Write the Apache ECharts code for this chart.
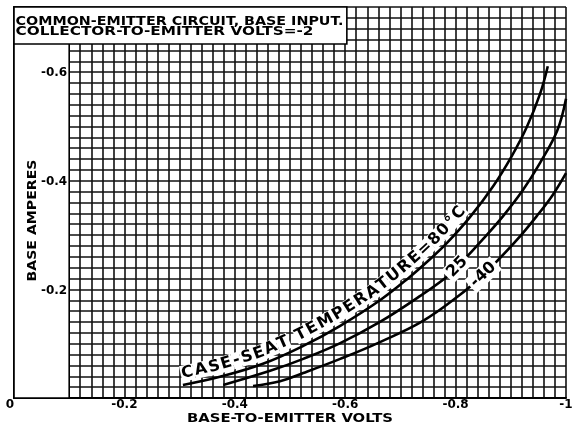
<!DOCTYPE html>
<html><head><meta charset="utf-8">
<script src="https://cdn.jsdelivr.net/npm/echarts@6/dist/echarts.min.js"></script>
<style>html,body{margin:0;padding:0;background:#fff}#c{width:580px;height:434px}</style>
</head><body><div id="c"></div>
<script>
// ---------- data ----------
const titleLines = ['COMMON-EMITTER CIRCUIT, BASE INPUT.', 'COLLECTOR-TO-EMITTER VOLTS=-2'];
const xAxisTitle = 'BASE-TO-EMITTER VOLTS';
const yAxisTitle = 'BASE AMPERES';
const xTickLabels = [0, -0.2, -0.4, -0.6, -0.8, -1];
const yTickLabels = [-0.2, -0.4, -0.6];
const seriesNames = ['80', '25', '-40'];
const curve80 = [[-0.306,-0.024],[-0.373,-0.039],[-0.451,-0.063],[-0.524,-0.096],[-0.591,-0.133],[-0.663,-0.180],[-0.717,-0.223],[-0.754,-0.256],[-0.784,-0.285],[-0.826,-0.333],[-0.868,-0.390],[-0.902,-0.446],[-0.929,-0.499],[-0.953,-0.560],[-0.967,-0.611]];
const curve25 = [[-0.379,-0.024],[-0.464,-0.050],[-0.524,-0.072],[-0.591,-0.101],[-0.663,-0.140],[-0.736,-0.188],[-0.790,-0.228],[-0.813,-0.252],[-0.850,-0.293],[-0.886,-0.335],[-0.922,-0.383],[-0.953,-0.433],[-0.984,-0.492],[-1.000,-0.551]];
const curveM40 = [[-0.433,-0.022],[-0.482,-0.031],[-0.524,-0.046],[-0.591,-0.072],[-0.663,-0.103],[-0.741,-0.142],[-0.808,-0.190],[-0.844,-0.221],[-0.875,-0.252],[-0.911,-0.291],[-0.947,-0.335],[-0.976,-0.374],[-1.000,-0.414]];
const curveLabel80 = 'CASE-SEAT TEMPERATURE=80°C';
const curveLabel25 = '25';
const curveLabelM40 = '-40';

// ---------- chart ----------
const FONT = '"DejaVu Sans", sans-serif';
function pickLabel(list) {
  return function (v) {
    const hit = list.find(t => Math.abs(t - v) < 1e-6);
    return hit === undefined ? '' : String(hit);
  };
}
const gridLine = { show: true, lineStyle: { color: '#111', width: 1.6 } };
const chart = echarts.init(document.getElementById('c'), null, { renderer: 'canvas' });
const lineSeries = (name, data) => ({
  name, type: 'line', data, smooth: 0.4, showSymbol: false, silent: true, z: 3,
  lineStyle: { color: '#000', width: 2.6 }
});
chart.setOption({
  animation: false,
  backgroundColor: '#fff',
  grid: { left: 14, right: 14, top: 7, bottom: 36, containLabel: false },
  xAxis: {
    type: 'value', min: -1, max: 0, interval: 0.02, inverse: true,
    axisLine: { show: true, onZero: false, lineStyle: { color: '#000', width: 2 } },
    axisTick: { show: false },
    axisLabel: { formatter: pickLabel(xTickLabels), color: '#000', fontFamily: FONT, fontWeight: 'bold', fontSize: 12, margin: 1, showMinLabel: true, showMaxLabel: true, alignMaxLabel: 'right' },
    splitLine: gridLine
  },
  yAxis: {
    type: 'value', min: -0.72, max: 0, interval: 0.02, inverse: true,
    axisLine: { show: true, onZero: false, lineStyle: { color: '#000', width: 2 } },
    axisTick: { show: false },
    axisLabel: { show: false },
    splitLine: gridLine
  },
  series: [lineSeries(seriesNames[0], curve80), lineSeries(seriesNames[1], curve25), lineSeries(seriesNames[2], curveM40)]
});

// ---------- annotations ----------
const px = p => chart.convertToPixel({ gridIndex: 0 }, p);
const ctx = document.createElement('canvas').getContext('2d');
const measure = (t, f) => { ctx.font = f; return ctx.measureText(t).width; };

function polyInfo(data) {
  const pts = data.map(px);
  const s = [0];
  for (let i = 1; i < pts.length; i++) s.push(s[i - 1] + Math.hypot(pts[i][0] - pts[i - 1][0], pts[i][1] - pts[i - 1][1]));
  return { pts, s };
}
function at(pi, sv) {
  const { pts, s } = pi;
  sv = Math.max(0, Math.min(s[s.length - 1], sv));
  let i = 1;
  while (i < s.length - 1 && s[i] < sv) i++;
  const t = (sv - s[i - 1]) / (s[i] - s[i - 1] || 1);
  return [pts[i - 1][0] + t * (pts[i][0] - pts[i - 1][0]), pts[i - 1][1] + t * (pts[i][1] - pts[i - 1][1])];
}
function sAtX(pi, dataX) {
  const xp = px([dataX, 0])[0];
  const { pts, s } = pi;
  for (let i = 1; i < pts.length; i++) {
    if ((pts[i - 1][0] - xp) * (pts[i][0] - xp) <= 0) {
      const t = (xp - pts[i - 1][0]) / (pts[i][0] - pts[i - 1][0] || 1);
      return s[i - 1] + t * (s[i] - s[i - 1]);
    }
  }
  return 0;
}
function frame(pi, sv) {
  const a = at(pi, sv - 9), b = at(pi, sv + 9), c = at(pi, sv);
  const dx = b[0] - a[0], dy = b[1] - a[1], L = Math.hypot(dx, dy) || 1;
  return { x: c[0], y: c[1], tx: dx / L, ty: dy / L, rot: Math.atan2(-dy, dx) };
}

const els = [];
// white panels
const a0 = px([0, 0]), a1 = px([-0.1, -0.72]);
els.push({ type: 'rect', z: 10, shape: { x: a0[0], y: a1[1], width: a1[0] - a0[0], height: a0[1] - a1[1] }, style: { fill: '#fff', stroke: '#000', lineWidth: 1.6 } });
const b0 = px([0, -0.72]), b1 = px([-0.603, -0.652]);
els.push({ type: 'rect', z: 10, shape: { x: b0[0], y: b0[1], width: b1[0] - b0[0], height: b1[1] - b0[1] }, style: { fill: '#fff', stroke: '#000', lineWidth: 1.6 } });

function fitted(text, font, x, y, width, align, rotation) {
  const w = measure(text, font);
  return { type: 'text', z: 12, x, y, rotation: rotation || 0, scaleX: width / w,
    style: { text, font, fill: '#000', align: align, verticalAlign: 'middle', textAlign: align, textVerticalAlign: 'middle' } };
}
const TF = 'bold 12px ' + FONT;
els.push(fitted(titleLines[0], TF, b0[0] + 1.5, b0[1] + 15, 328, 'left'));
els.push(fitted(titleLines[1], TF, b0[0] + 1.5, b0[1] + 25, 298, 'left'));
const AF = 'bold 13px ' + FONT;
els.push(fitted(xAxisTitle, AF, (px([0, 0])[0] + px([-1, 0])[0]) / 2, a0[1] + 21, 206, 'center'));
els.push(fitted(yAxisTitle, AF, a0[0] + 19, (a0[1] + a1[1]) / 2 + 18, 122, 'center', Math.PI / 2));

// y tick labels (drawn above the white left panel)
yTickLabels.forEach(v => {
  const p = px([0, v]);
  els.push({ type: 'text', z: 12, x: a1[0] - 2, y: p[1] + 1,
    style: { text: String(v), font: 'bold 12px ' + FONT, fill: '#000', align: 'right', verticalAlign: 'middle', textAlign: 'right', textVerticalAlign: 'middle' } });
});

// curved label along the 80 C curve
const p80 = polyInfo(curve80);
const LF = 'bold 16px ' + FONT;
(function () {
  const s0 = sAtX(p80, -0.308), s1 = sAtX(p80, -0.828);
  const chars = curveLabel80.split('');
  const ws = chars.map(c => measure(c, LF));
  const W = ws.reduce((p, q) => p + q, 0);
  const gap = (s1 - s0 - W) / (chars.length - 1);
  let cur = s0;
  const d = 11;
  chars.forEach((c, i) => {
    const sc = cur + ws[i] / 2;
    const f = frame(p80, sc);
    const nx = f.ty, ny = -f.tx;
    els.push({ type: 'text', z: 12, x: f.x + nx * d, y: f.y + ny * d, rotation: f.rot,
      style: { text: c, font: LF, fill: '#000', align: 'center', verticalAlign: 'middle', textAlign: 'center', textVerticalAlign: 'middle',
        backgroundColor: c === ' ' ? 'transparent' : '#fff', padding: [0, Math.max(0, gap / 2)] } });
    cur += ws[i] + gap;
  });
})();
function inlineLabel(data, text, dataX) {
  const pi = polyInfo(data);
  const f = frame(pi, sAtX(pi, dataX));
  els.push({ type: 'text', z: 12, x: f.x, y: f.y, rotation: f.rot,
    style: { text, font: LF, fill: '#000', align: 'center', verticalAlign: 'middle', textAlign: 'center', textVerticalAlign: 'middle', backgroundColor: '#fff', padding: [1, 3] } });
}
inlineLabel(curve25, curveLabel25, -0.803);
inlineLabel(curveM40, curveLabelM40, -0.850);

chart.setOption({ graphic: { elements: els } });
</script></body></html>
